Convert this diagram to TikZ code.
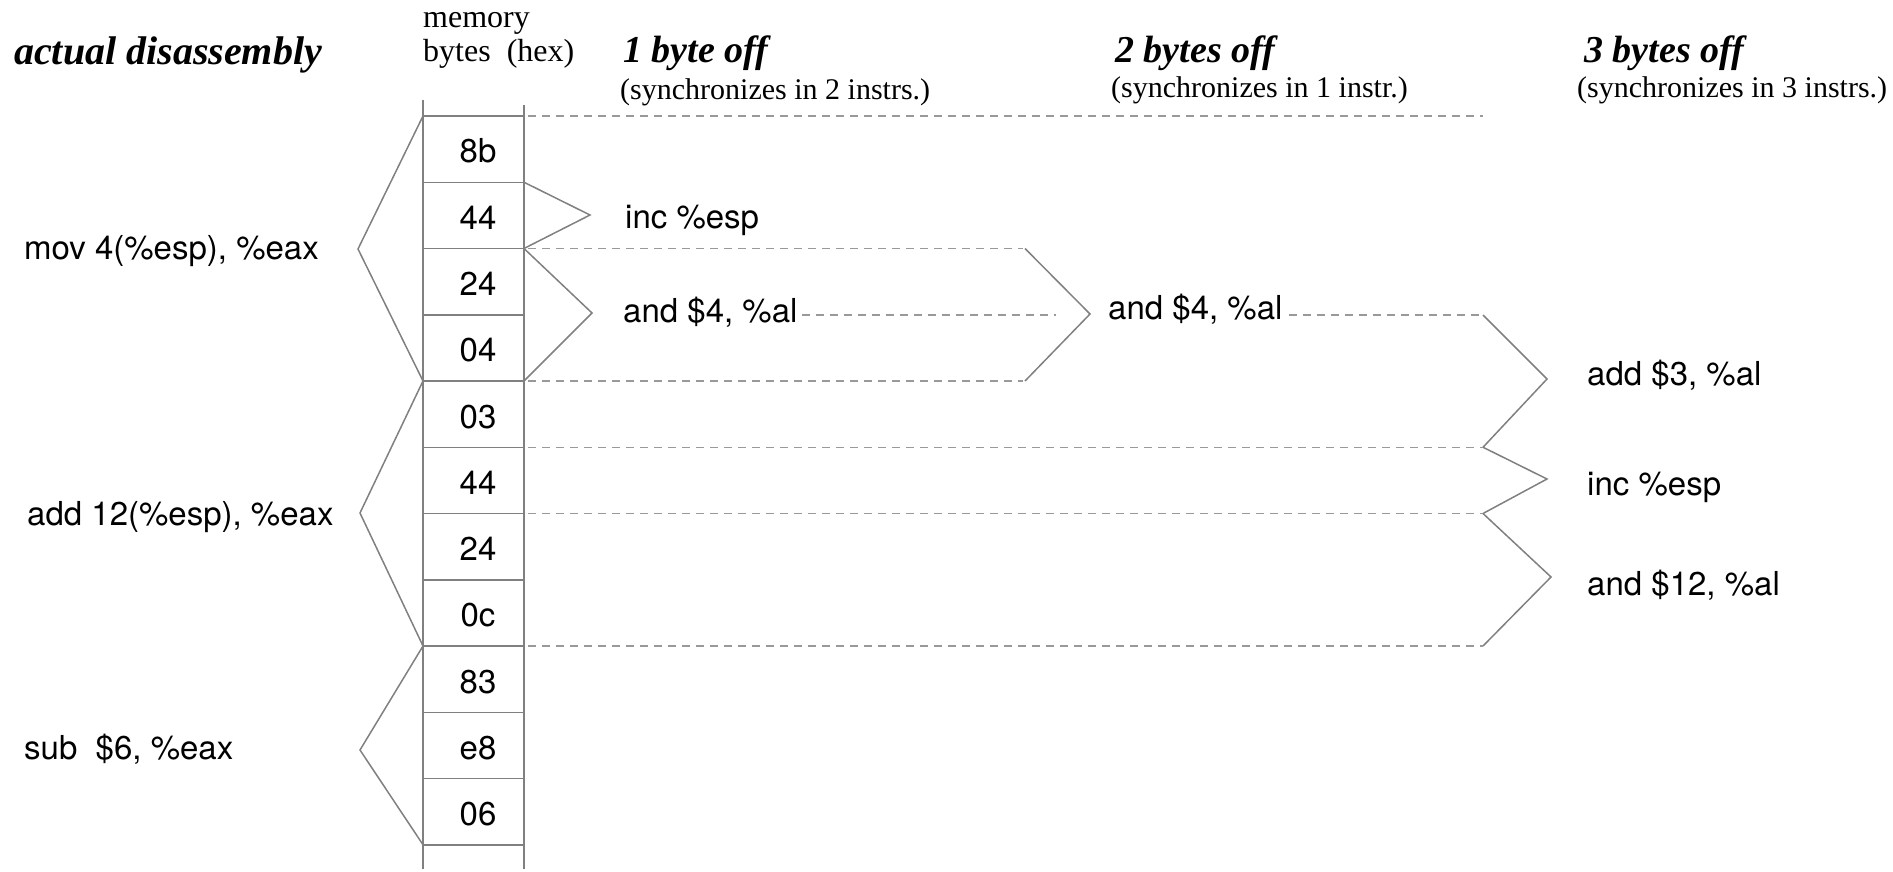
\documentclass[tikz,border=0pt]{standalone}
\usepackage{fontspec}
\setmainfont{Liberation Serif}
\newfontfamily\helv{TeX Gyre Heros}
\usetikzlibrary{calc}
\begin{document}
\begin{tikzpicture}[x=1pt,y=-1pt,
  solidline/.style={draw=black!50, line width=1.5pt, line join=miter},
  guide/.style={draw=black!40, line width=1.4pt, dash pattern=on 8pt off 6pt},
  asm/.style={font=\helv\fontsize{33}{40}\selectfont, anchor=base west, inner sep=0pt},
  bytelabel/.style={font=\helv\fontsize{33}{40}\selectfont, anchor=base, inner sep=0pt},
  head/.style={font=\bfseries\itshape\fontsize{38}{44}\selectfont, anchor=base west, inner sep=0pt},
  note/.style={font=\fontsize{30}{36}\selectfont, anchor=base west, inner sep=0pt},
  colhead/.style={font=\fontsize{32}{34}\selectfont, anchor=base west, inner sep=0pt}]
\useasboundingbox (0,0) rectangle (1893,872);

% ---- headings ----
\node[head, font=\bfseries\itshape\fontsize{40}{46}\selectfont] (actual) at (14,65) {actual disassembly};
\node[colhead] (mem) at (423,28) {memory};
\node[colhead] (bytes) at (423,62) {bytes\ \ (hex)};
\node[head] (off1) at (623,63) {1 byte off};
\node[note] (sync1) at (620,100) {(synchronizes in 2 instrs.)};
\node[head] (off2) at (1115,63) {2 bytes off};
\node[note] (sync2) at (1111,98) {(synchronizes in 1 instr.)};
\node[head] (off3) at (1584,63) {3 bytes off};
\node[note] (sync3) at (1577,98) {(synchronizes in 3 instrs.)};

% ---- memory byte column ----
\coordinate (topL) at (423,100);
\coordinate (topR) at (524,105);
\coordinate (botL) at (423,869);
\coordinate (botR) at (524,869);
\draw[solidline] (topL) -- (botL);
\draw[solidline] (topR) -- (botR);
\foreach \k in {0,...,11} {
  \coordinate (l\k) at (423,{116+66.25*\k});
  \coordinate (r\k) at (524,{116+66.25*\k});
  \draw[solidline] (l\k) -- (r\k);
}
\foreach \k/\b in {0/8b,1/44,2/24,3/04,4/03,5/44,6/24,7/0c,8/83,9/e8,10/06} {
  \node[bytelabel] (b\k) at (478,{116+66.25*\k+47}) {\b};
}

% ---- actual instructions ----
\node[asm] (mov) at (24,259) {mov 4(\%esp), \%eax};
\node[asm] (addl) at (27,525) {add 12(\%esp), \%eax};
\node[asm] (sub) at (24,759) {sub\ \ \$6, \%eax};
\coordinate (movtip) at (358,249);
\coordinate (addtip) at (360,513);
\coordinate (subtip) at (360,750);
\draw[solidline] (l0) -- (movtip) -- (l4);
\draw[solidline] (l4) -- (addtip) -- (l8);
\draw[solidline] (l8) -- (subtip) -- (l11);

% ---- one byte off ----
\node[asm] (inc1) at (625,228) {inc \%esp};
\node[asm] (and1) at (623,322) {and \$4, \%al};
\coordinate (inc1tip) at (590,215);
\coordinate (and1tip) at (592,313);
\draw[solidline] (r1) -- (inc1tip) -- (r2);
\draw[solidline] (r2) -- (and1tip) -- (r4);

% ---- two bytes off ----
\node[asm] (and2) at (1108,319) {and \$4, \%al};
\coordinate (s2a) at (1025,{116+66.25*2});
\coordinate (s2b) at (1025,{116+66.25*4});
\coordinate (and2tip) at (1090,314);
\draw[solidline] (s2a) -- (and2tip) -- (s2b);

% ---- three bytes off ----
\node[asm] (add3) at (1587,385) {add \$3, \%al};
\node[asm] (inc3) at (1587,495) {inc \%esp};
\node[asm] (and3) at (1587,595) {and \$12, \%al};
\coordinate (e0) at (1483,116);
\coordinate (e3) at (1483,315);
\coordinate (e5) at (1483,{116+66.25*5});
\coordinate (e6) at (1483,{116+66.25*6});
\coordinate (e8) at (1483,{116+66.25*8});
\coordinate (add3tip) at (1547,379);
\coordinate (inc3tip) at (1547,479);
\coordinate (and3tip) at (1551,577);
\draw[solidline] (e3) -- (add3tip) -- (e5);
\draw[solidline] (e5) -- (inc3tip) -- (e6);
\draw[solidline] (e6) -- (and3tip) -- (e8);

% ---- alignment guides ----
\draw[guide] ([xshift=4pt]r0) -- (e0);
\draw[guide] ([xshift=4pt]r2) -- ([xshift=-2pt]s2a);
\draw[guide] ([xshift=4pt]r4) -- ([xshift=-2pt]s2b);
\draw[guide] ($(and1.base east)+(4,-7)$) -- ($(and2tip)+(-34,1)$);
\draw[guide] ($(and2.base east)+(6,-4)$) -- (e3);
\draw[guide] ([xshift=4pt]r5) -- (e5);
\draw[guide] ([xshift=4pt]r6) -- (e6);
\draw[guide] ([xshift=4pt]r8) -- (e8);
\end{tikzpicture}
\end{document}
